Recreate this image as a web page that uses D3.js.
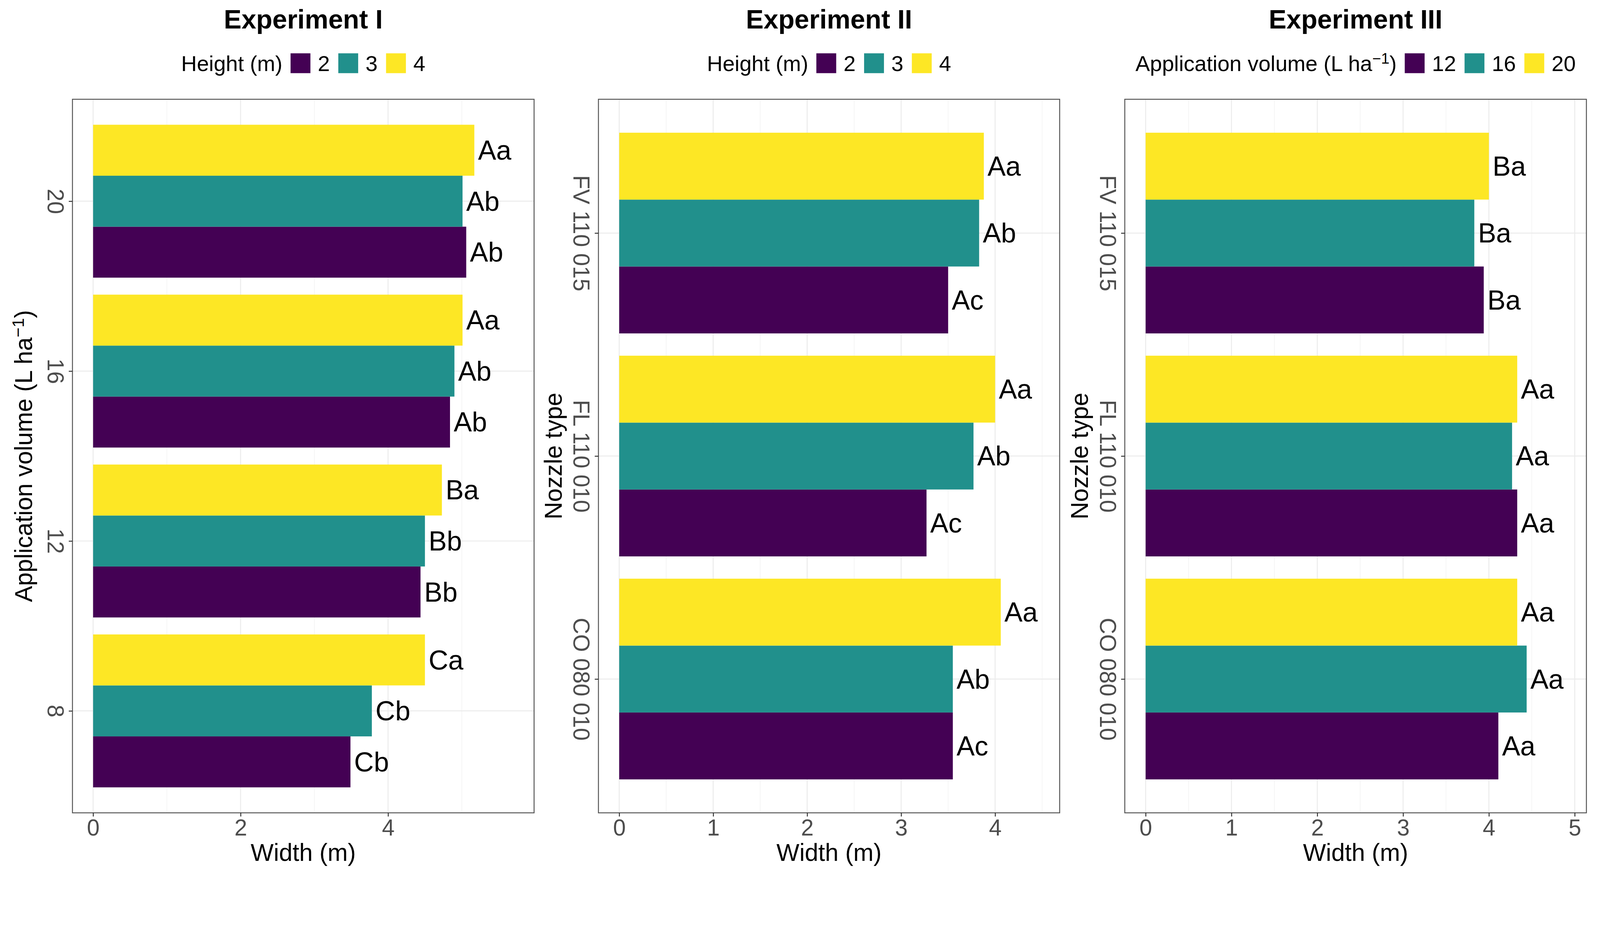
<!DOCTYPE html>
<html>
<head>
<meta charset="utf-8">
<script src="https://cdn.jsdelivr.net/npm/d3@7"></script>
<style>
  html, body { margin: 0; padding: 0; background: #fff; overflow: hidden; }
  svg { display: block; }
  text { font-family: "Liberation Sans", Arial, Helvetica, sans-serif; }
</style>
</head>
<body>
<div id="chart"></div>
<script>
// 1: DATA
const heightLevels = ["2", "3", "4"];
const volumeLevels = ["12", "16", "20"];
const colors = ["#440154", "#21908C", "#FDE725"];

// Experiment I: application volume (top to bottom), bars by height
const exp1Cats = ["20", "16", "12", "8"];
const exp1H2 = [5.06, 4.84, 4.44, 3.49];
const exp1H3 = [5.01, 4.90, 4.50, 3.78];
const exp1H4 = [5.17, 5.01, 4.73, 4.50];
const exp1LabH2 = ["Ab", "Ab", "Bb", "Cb"];
const exp1LabH3 = ["Ab", "Ab", "Bb", "Cb"];
const exp1LabH4 = ["Aa", "Aa", "Ba", "Ca"];

// Experiment II: nozzle type, bars by height
const nozzleCats = ["FV 110 015", "FL 110 010", "CO 080 010"];
const exp2H2 = [3.50, 3.27, 3.55];
const exp2H3 = [3.83, 3.77, 3.55];
const exp2H4 = [3.88, 4.00, 4.06];
const exp2LabH2 = ["Ac", "Ac", "Ac"];
const exp2LabH3 = ["Ab", "Ab", "Ab"];
const exp2LabH4 = ["Aa", "Aa", "Aa"];

// Experiment III: nozzle type, bars by application volume
const exp3V12 = [3.94, 4.33, 4.11];
const exp3V16 = [3.83, 4.27, 4.44];
const exp3V20 = [4.00, 4.33, 4.33];
const exp3LabV12 = ["Ba", "Aa", "Aa"];
const exp3LabV16 = ["Ba", "Aa", "Aa"];
const exp3LabV20 = ["Ba", "Aa", "Aa"];

const exp1Ticks = [0, 2, 4];
const exp1Minor = [1, 3, 5];
const exp2Ticks = [0, 1, 2, 3, 4];
const exp2Minor = [0.5, 1.5, 2.5, 3.5, 4.5];
const exp3Ticks = [0, 1, 2, 3, 4, 5];
const exp3Minor = [0.5, 1.5, 2.5, 3.5, 4.5];

// 2: GLOBAL LAYOUT
const W = 4350, H = 2382;
const plotTop = 270, plotBottom = 2211;

// fixed drawing coordinates, scaled to the viewport width, pinned to the top
const svg = d3.select("#chart")
    .append("svg")
    .attr("viewBox", `0 0 ${W} ${H}`)
    .attr("preserveAspectRatio", "xMidYMin meet")
    .style("width", "100vw")
    .style("height", "100vh")
    .style("background", "#fff");

function drawPanel(cfg) {
    const g = svg.append("g");
    const cx = (cfg.left + cfg.right) / 2;

    const x = d3.scaleLinear().domain(cfg.xDomain).range([cfg.left, cfg.right]);
    const y = d3.scalePoint().domain(cfg.cats).range([plotTop, plotBottom]).padding(0.6);
    const step = y.step();
    // dodge: last level on top of the group
    const inner = d3.scaleBand()
        .domain(cfg.levels.slice().reverse())
        .range([-0.45 * step, 0.45 * step]);

    const rows = [];
    cfg.series.forEach((s, i) => {
        cfg.cats.forEach((c, j) => {
            rows.push({ cat: c, level: cfg.levels[i], value: s.values[j], label: s.labels[j], color: colors[i] });
        });
    });

    // grid
    g.selectAll(".minor")
        .data(cfg.minor)
        .enter()
        .append("line")
        .attr("x1", d => x(d)).attr("x2", d => x(d))
        .attr("y1", plotTop).attr("y2", plotBottom)
        .attr("stroke", "#f0f0f0")
        .attr("stroke-width", 1.3);

    g.selectAll(".major")
        .data(cfg.ticks)
        .enter()
        .append("line")
        .attr("x1", d => x(d)).attr("x2", d => x(d))
        .attr("y1", plotTop).attr("y2", plotBottom)
        .attr("stroke", "#ebebeb")
        .attr("stroke-width", 2.6);

    g.selectAll(".hgrid")
        .data(cfg.cats)
        .enter()
        .append("line")
        .attr("x1", cfg.left).attr("x2", cfg.right)
        .attr("y1", d => y(d)).attr("y2", d => y(d))
        .attr("stroke", "#ebebeb")
        .attr("stroke-width", 2.6);

    // bars
    g.selectAll(".bar")
        .data(rows)
        .enter()
        .append("rect")
        .attr("x", x(0))
        .attr("y", d => y(d.cat) + inner(d.level))
        .attr("width", d => x(d.value) - x(0))
        .attr("height", inner.bandwidth())
        .attr("fill", d => d.color);

    // letters
    g.selectAll(".lab")
        .data(rows)
        .enter()
        .append("text")
        .attr("x", d => x(d.value) + 10)
        .attr("y", d => y(d.cat) + inner(d.level) + inner.bandwidth() / 2)
        .attr("dy", "0.35em")
        .style("font-size", "74px")
        .style("fill", "#000")
        .text(d => d.label);

    // border
    g.append("rect")
        .attr("x", cfg.left).attr("y", plotTop)
        .attr("width", cfg.right - cfg.left)
        .attr("height", plotBottom - plotTop)
        .attr("fill", "none")
        .attr("stroke", "#555")
        .attr("stroke-width", 2.6);

    // x axis
    const xAxis = g.append("g")
        .attr("transform", `translate(0, ${plotBottom})`)
        .call(d3.axisBottom(x).tickValues(cfg.ticks).tickSize(10).tickPadding(8).tickFormat(d3.format("d")));
    xAxis.select(".domain").remove();
    xAxis.selectAll("line").attr("stroke", "#333").attr("stroke-width", 2.6);
    xAxis.selectAll("text")
        .attr("fill", "#4d4d4d")
        .style("font-size", "62px")
        .style("font-family", "'Liberation Sans', Arial, sans-serif");

    // y axis (rotated tick labels)
    const yAxis = g.append("g")
        .attr("transform", `translate(${cfg.left}, 0)`)
        .call(d3.axisLeft(y).tickSize(10));
    yAxis.select(".domain").remove();
    yAxis.selectAll("line").attr("stroke", "#333").attr("stroke-width", 2.6);
    yAxis.selectAll("text")
        .attr("x", 0).attr("dy", "0.35em")
        .attr("text-anchor", "middle")
        .attr("transform", "translate(-46, 0) rotate(90)")
        .attr("fill", "#4d4d4d")
        .style("font-size", "62px")
        .style("font-family", "'Liberation Sans', Arial, sans-serif");

    // axis titles
    g.append("text")
        .attr("x", cx)
        .attr("y", 2342)
        .attr("text-anchor", "middle")
        .style("font-size", "66px")
        .text("Width (m)");

    const yt = g.append("text")
        .attr("transform", `translate(${cfg.left - cfg.yTitleOffset}, ${(plotTop + plotBottom) / 2}) rotate(-90)`)
        .attr("text-anchor", "middle")
        .style("font-size", "66px");
    addTitleText(yt, cfg.yTitle, 66);

    // panel title
    g.append("text")
        .attr("x", cx)
        .attr("y", 77)
        .attr("text-anchor", "middle")
        .style("font-size", "72px")
        .style("font-weight", "bold")
        .text(cfg.title);

    // legend
    const leg = g.append("g");
    const lt = leg.append("text")
        .attr("x", 0).attr("y", 193)
        .style("font-size", "59px");
    addTitleText(lt, cfg.legendTitle, 59);
    let pos = lt.node().getComputedTextLength() + 22;
    cfg.levels.forEach((lv, i) => {
        leg.append("rect")
            .attr("x", pos).attr("y", 145)
            .attr("width", 54).attr("height", 54)
            .attr("fill", colors[i]);
        pos += 54 + 20;
        const t = leg.append("text")
            .attr("x", pos).attr("y", 193)
            .style("font-size", "59px")
            .text(lv);
        pos += t.node().getComputedTextLength() + 23;
    });
    pos -= 23;
    leg.attr("transform", `translate(${cx - pos / 2}, 0)`);
}

// text with optional superscript "-1" (pieces: [main, sup, tail])
function addTitleText(sel, pieces, size) {
    if (typeof pieces === "string") { sel.text(pieces); return; }
    const shift = Math.round(size * 0.34);
    sel.append("tspan").text(pieces[0]);
    sel.append("tspan").attr("dy", -shift).style("font-size", Math.round(size * 0.7) + "px").text(pieces[1]);
    sel.append("tspan").attr("dy", shift).text(pieces[2]);
}

const volumeTitle = ["Application volume (L ha", "\u22121", ")"];

// 3: DRAW PANELS
drawPanel({
    left: 197, right: 1452,
    xDomain: [-0.28, 5.98],
    ticks: exp1Ticks, minor: exp1Minor,
    cats: exp1Cats, levels: heightLevels,
    series: [
        { values: exp1H2, labels: exp1LabH2 },
        { values: exp1H3, labels: exp1LabH3 },
        { values: exp1H4, labels: exp1LabH4 }
    ],
    title: "Experiment I",
    legendTitle: "Height (m)",
    yTitle: volumeTitle, yTitleOffset: 110
});

drawPanel({
    left: 1627, right: 2881,
    xDomain: [-0.221, 4.687],
    ticks: exp2Ticks, minor: exp2Minor,
    cats: nozzleCats, levels: heightLevels,
    series: [
        { values: exp2H2, labels: exp2LabH2 },
        { values: exp2H3, labels: exp2LabH3 },
        { values: exp2H4, labels: exp2LabH4 }
    ],
    title: "Experiment II",
    legendTitle: "Height (m)",
    yTitle: "Nozzle type", yTitleOffset: 100
});

drawPanel({
    left: 3058, right: 4313,
    xDomain: [-0.243, 5.136],
    ticks: exp3Ticks, minor: exp3Minor,
    cats: nozzleCats, levels: volumeLevels,
    series: [
        { values: exp3V12, labels: exp3LabV12 },
        { values: exp3V16, labels: exp3LabV16 },
        { values: exp3V20, labels: exp3LabV20 }
    ],
    title: "Experiment III",
    legendTitle: volumeTitle,
    yTitle: "Nozzle type", yTitleOffset: 100
});
</script>
</body>
</html>
